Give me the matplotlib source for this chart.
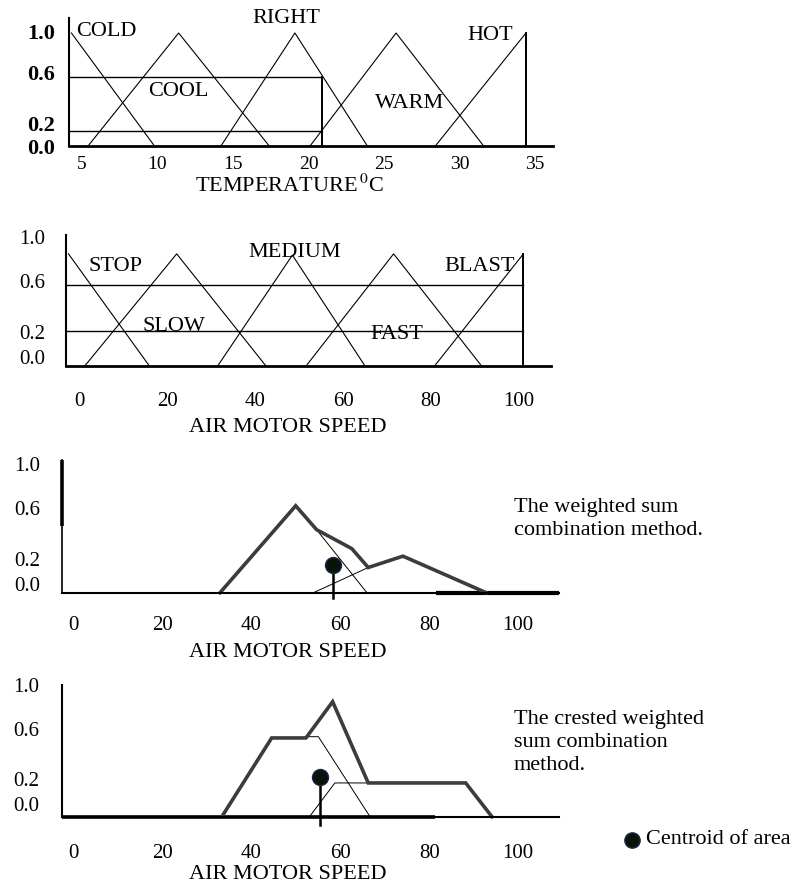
import matplotlib
matplotlib.use("Agg")
import matplotlib.pyplot as plt
from matplotlib.lines import Line2D
from matplotlib.transforms import ScaledTranslation

plt.rcParams['font.family'] = ['Liberation Serif', 'DejaVu Serif']
plt.rcParams['mathtext.fontset'] = 'stix'

# --- data ----------------------------------------------------------------
temp_names = ["COLD", "COOL", "RIGHT", "WARM", "HOT"]
temp_x = [[4.3, 9.8], [5.4, 11.4, 17.4], [14.2, 19.1, 23.9],
          [20.1, 25.8, 31.6], [28.4, 34.4, 34.4]]
temp_mu = [[1.0, 0.0], [0, 1.0, 0], [0, 1.0, 0], [0, 1.0, 0], [0, 1.0, 0]]
temp_label_pos = [(6.6, 1.01), (11.4, 0.48), (18.5, 1.13), (26.7, 0.38), (32.0, 0.98)]
temp_cuts = [0.61, 0.13]
temp_cut_end = 20.9
temp_ticks = [5, 10, 15, 20, 25, 30, 35]

speed_names = ["STOP", "SLOW", "MEDIUM", "FAST", "BLAST"]
speed_x = [[-2.4, 16.0], [1.3, 22.2, 42.5], [31.5, 48.5, 65.0],
           [51.6, 71.5, 91.5], [80.8, 101.0, 101.0]]
speed_mu = [[0.89, 0], [0, 0.89, 0], [0, 0.88, 0], [0, 0.89, 0], [0, 0.89, 0]]
speed_label_pos = [(8.3, 0.79), (21.6, 0.31), (49.1, 0.9), (72.3, 0.25), (91.0, 0.79)]
speed_cuts = [0.64, 0.28]
speed_cut_end = 101.0
speed_ticks = [0, 20, 40, 60, 80, 100]

mu_ticks = [0.0, 0.2, 0.6, 1.0]
mu_labels = ["0.0", "0.2", "0.6", "1.0"]

# weighted sum
ws_x = [33.0, 50.0, 54.7, 62.6, 66.3, 74.1, 92.8]
ws_mu = [0, 0.69, 0.50, 0.35, 0.20, 0.29, 0]
ws_med_x, ws_med_mu = [54.7, 66.0], [0.50, 0]
ws_fast_x, ws_fast_mu = [54.0, 66.3], [0, 0.20]
ws_centroid = (58.4, 0.22)

# crested weighted sum
cw_x = [33.4, 44.6, 52.3, 58.3, 66.3, 88.2, 94.1]
cw_mu = [0, 0.63, 0.63, 0.92, 0.27, 0.27, 0]
cw_med_x, cw_med_mu = [52.3, 55.1, 66.7], [0.64, 0.64, 0]
cw_fast_x, cw_fast_mu = [53.1, 58.8, 66.3], [0, 0.27, 0.27]
cw_centroid = (55.5, 0.32)

# --- layout (pixels) -------------------------------------------------------
W, H = 801, 884
fig = plt.figure(figsize=(W / 100, H / 100), dpi=100)
fig.patch.set_facecolor("white")

THICK = "#3c3c3c"
FS = 16


def px_to_fig(x, y):
    return x / W, 1 - y / H


def make_ax(box, xmap, yunit):
    left, top, right, bottom = box
    px0, v0, ppu = xmap
    ax = fig.add_axes([left / W, 1 - bottom / H, (right - left) / W, (bottom - top) / H])
    ax.set_xlim(v0 + (left - px0) / ppu, v0 + (right - px0) / ppu)
    ax.set_ylim(0, (bottom - top) / yunit)
    ax.patch.set_visible(False)
    for s in ("top", "right"):
        ax.spines[s].set_visible(False)
    return ax


def style_ticks(ax, xticks, ypad, xpad, yoffs, ysize=15, xsize=15, ybold=False):
    ax.set_yticks(mu_ticks, mu_labels)
    ax.set_xticks(xticks, [str(t) for t in xticks])
    ax.tick_params(axis="y", length=0, pad=ypad, labelsize=ysize)
    ax.tick_params(axis="x", length=0, pad=xpad, labelsize=xsize)
    for lab, off in zip(ax.get_yticklabels(), yoffs):
        lab.set_transform(lab.get_transform() + ScaledTranslation(0, off / 100, fig.dpi_scale_trans))
        if ybold:
            lab.set_fontweight("bold")


def set_xlabel(ax, text, box, cx, top_px):
    left, top, right, bottom = box
    ax.set_xlabel(text, fontsize=FS)
    ax.xaxis.set_label_coords((cx - left) / (right - left), -(top_px - bottom) / (bottom - top))


def centroid(ax, c, stem_end):
    ax.plot([c[0], c[0]], [c[1], stem_end], color="black", lw=1.8, clip_on=False)
    ax.plot([c[0]], [c[1]], marker="o", ms=11.5, mfc="#071407", mec="#1c2450", mew=1.0,
            clip_on=False)


# ---- panel 1: temperature
box1 = (69, 18, 553, 146)
ax1 = make_ax(box1, (82, 5, 15.1), 113)
ax1.spines["left"].set_linewidth(1.5)
ax1.spines["bottom"].set_linewidth(2.0)
for xs, ms in zip(temp_x, temp_mu):
    ax1.plot(xs, ms, color="black", lw=0.8)
ax1.plot([temp_x[-1][1]] * 2, [0, temp_mu[-1][1]], color="black", lw=1.4)
x_lo = ax1.get_xlim()[0]
for c in temp_cuts:
    ax1.plot([x_lo, temp_cut_end], [c, c], color="black", lw=1.0)
ax1.plot([temp_cut_end] * 2, [0, max(temp_cuts)], color="black", lw=1.4)
for name, (lx, ly) in zip(temp_names, temp_label_pos):
    ax1.text(lx, ly, name, fontsize=FS, ha="center", va="center")
style_ticks(ax1, temp_ticks, 10, 7, [-1, 0, 6, 1], ysize=16, xsize=14, ybold=True)
set_xlabel(ax1, r"TEMPERATURE$\,^{0}$C", box1, 290, 175)

# ---- panel 2: speed sets
box2 = (65.7, 235, 551, 366)
ax2 = make_ax(box2, (79, 0, 4.4), 126)
ax2.spines["left"].set_linewidth(1.5)
ax2.spines["bottom"].set_linewidth(2.0)
for xs, ms in zip(speed_x, speed_mu):
    ax2.plot(xs, ms, color="black", lw=0.8)
ax2.plot([speed_x[-1][1]] * 2, [0, speed_mu[-1][1]], color="black", lw=1.4)
x_lo = ax2.get_xlim()[0]
for c in speed_cuts:
    ax2.plot([x_lo, speed_cut_end], [c, c], color="black", lw=1.0)
for name, (lx, ly) in zip(speed_names, speed_label_pos):
    ax2.text(lx, ly, name, fontsize=FS, ha="center", va="center")
style_ticks(ax2, speed_ticks, 15, 19, [9, 9, 9, 3])
set_xlabel(ax2, "AIR MOTOR SPEED", box2, 288, 418)

# ---- panel 3: weighted sum
box3 = (62.1, 460.3, 558.8, 592.7)
ax3 = make_ax(box3, (73.2, 0, 4.45), 126)
ax3.spines["left"].set_linewidth(1.2)
ax3.spines["bottom"].set_linewidth(1.5)
x_lo, x_hi = ax3.get_xlim()
ax3.plot([x_lo, x_lo], [0.53, ax3.get_ylim()[1]], color="black", lw=2.6,
         solid_capstyle="butt", clip_on=False)
ax3.plot([81.6, x_hi], [0, 0], color="black", lw=3.0, solid_capstyle="butt", clip_on=False)
ax3.plot(ws_med_x, ws_med_mu, color="black", lw=0.7)
ax3.plot(ws_fast_x, ws_fast_mu, color="black", lw=0.7)
ax3.plot(ws_x, ws_mu, color=THICK, lw=2.6, solid_joinstyle="miter", clip_on=False)
centroid(ax3, ws_centroid, -0.045)
style_ticks(ax3, speed_ticks, 16, 17, [9, 9, 9, 3])
set_xlabel(ax3, "AIR MOTOR SPEED", box3, 288, 643)

# ---- panel 4: crested weighted sum
box4 = (61.8, 685, 559.4, 816.7)
ax4 = make_ax(box4, (73.2, 0, 4.45), 125)
ax4.spines["left"].set_linewidth(1.5)
ax4.spines["bottom"].set_linewidth(1.5)
x_lo, x_hi = ax4.get_xlim()
ax4.plot([x_lo, 81.2], [0, 0], color="black", lw=2.6, solid_capstyle="butt", clip_on=False)
ax4.plot(cw_med_x, cw_med_mu, color="black", lw=0.7)
ax4.plot(cw_fast_x, cw_fast_mu, color="black", lw=0.7)
ax4.plot(cw_x, cw_mu, color=THICK, lw=2.6, solid_joinstyle="miter", clip_on=False)
centroid(ax4, cw_centroid, -0.066)
style_ticks(ax4, speed_ticks, 16, 20, [13, 13, 13, 7])
set_xlabel(ax4, "AIR MOTOR SPEED", box4, 288, 865)

# ---- side notes
fig.text(*px_to_fig(514, 498), "The weighted sum\ncombination method.",
         fontsize=FS, ha="left", va="top", linespacing=1.3)
fig.text(*px_to_fig(514, 710), "The crested weighted\nsum combination\nmethod.",
         fontsize=FS, ha="left", va="top", linespacing=1.3)
mx, my = px_to_fig(631.7, 840)
fig.add_artist(Line2D([mx], [my], transform=fig.transFigure, marker="o", ms=11,
                      mfc="#071407", mec="#1c2450", mew=1.0, linestyle="none"))
fig.text(*px_to_fig(646, 840), "Centroid of area", fontsize=FS, ha="left", va="center")

fig.savefig("out.png", dpi=100)
